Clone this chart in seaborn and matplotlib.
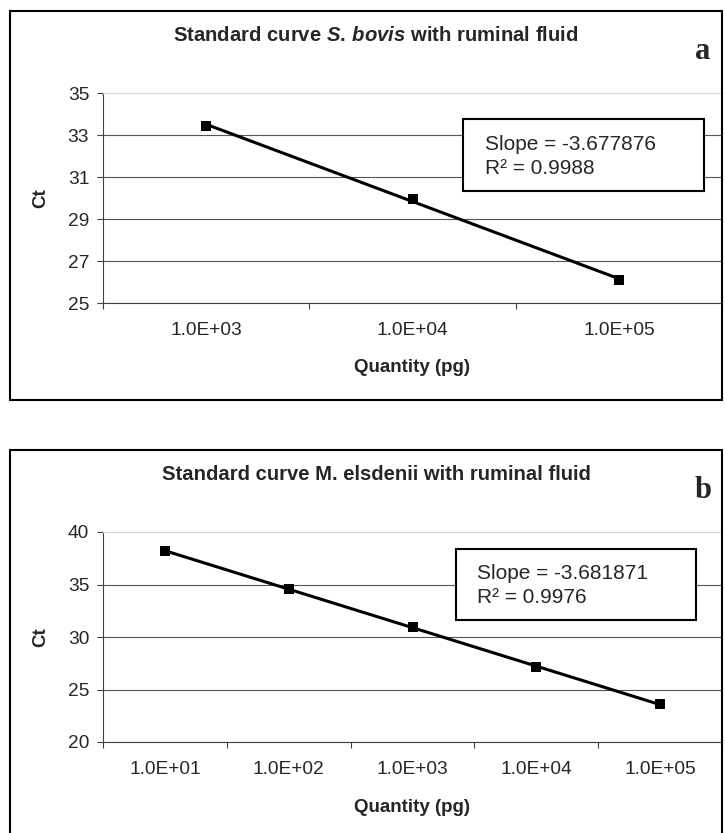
import matplotlib
matplotlib.use("Agg")
import matplotlib.pyplot as plt
from matplotlib.patches import Rectangle
import numpy as np
import pandas as pd
import seaborn as sns

# panel a: S. bovis standard curve
bovis_labels = ["1.0E+03", "1.0E+04", "1.0E+05"]
bovis_ct = [33.45, 29.95, 26.1]
bovis_yticks = [25, 27, 29, 31, 33, 35]
bovis_title = "Standard curve $\\mathit{S.}\\,\\mathit{bovis}$ with ruminal fluid"
bovis_stats = ["Slope = -3.677876", "R\u00b2 = 0.9988"]

# panel b: M. elsdenii standard curve
elsd_labels = ["1.0E+01", "1.0E+02", "1.0E+03", "1.0E+04", "1.0E+05"]
elsd_ct = [38.2, 34.55, 31.0, 27.1, 23.6]
elsd_yticks = [20, 25, 30, 35, 40]
elsd_title = "Standard curve M. elsdenii with ruminal fluid"
elsd_stats = ["Slope = -3.681871", "R\u00b2 = 0.9976"]

sns.set_theme(style="white")
plt.rcParams["font.family"] = ["Liberation Sans", "DejaVu Sans"]
plt.rcParams["mathtext.fontset"] = "custom"
plt.rcParams["mathtext.it"] = "Liberation Sans:italic:bold"
plt.rcParams["mathtext.rm"] = "Liberation Sans:bold"

W, H = 725, 833
fig = plt.figure(figsize=(W / 100, H / 100), dpi=100)
fig.patch.set_facecolor("white")


def fx(px):
    return px / W


def fy(py):
    return 1 - py / H


def draw_panel(top, labels, ct, yticks, title, letter, stats, box, text_x, text_y):
    # chart area frame
    fig.patches.append(Rectangle((fx(10), fy(top + 389)), fx(712), 389 / H,
                                 transform=fig.transFigure, fill=False,
                                 ec="black", lw=1.5))
    fig.text(fx(376), fy(top + 30), title, ha="center", va="baseline",
             fontsize=14.6, fontweight="bold")
    fig.text(fx(703), fy(top + 48), letter, ha="center", va="baseline",
             fontsize=22, fontweight="bold", family="Liberation Serif")

    ax = fig.add_axes([fx(103), fy(top + 292), fx(619), 210 / H])
    n = len(ct)
    df = pd.DataFrame({"idx": np.arange(n), "ct": ct})
    sns.regplot(data=df, x="idx", y="ct", ax=ax, ci=None, color="black",
                marker="s", truncate=True,
                scatter_kws={"s": 48, "linewidths": 0, "alpha": 1, "zorder": 4},
                line_kws={"lw": 2.2, "zorder": 3})

    ax.set_xlim(-0.5, n - 0.5)
    ax.set_ylim(yticks[0], yticks[-1])
    ax.set_yticks(yticks)
    ax.set_xticks(np.arange(n + 1) - 0.5, [""] * (n + 1))
    ax.set_xticks(np.arange(n), labels, minor=True)
    ax.tick_params(axis="x", which="major", direction="out", length=4.5,
                   width=0.8, color="#404040", bottom=True)
    ax.tick_params(axis="x", which="minor", length=0, pad=14, labelsize=13.8)
    ax.tick_params(axis="y", direction="out", length=4, width=0.8,
                   color="#404040", left=True, pad=6, labelsize=13.8)
    ax.set_xlabel("")
    ax.set_ylabel("")

    ax.yaxis.grid(True, color="#555555", lw=0.8)
    ax.set_axisbelow(True)
    ax.get_ygridlines()[-1].set_visible(False)
    for side in ["left", "bottom"]:
        ax.spines[side].set_color("#404040")
        ax.spines[side].set_linewidth(0.8)
    ax.spines["right"].set_visible(False)
    ax.spines["top"].set_color("#d8d8d8")
    ax.spines["top"].set_linewidth(0.8)

    ax.text(0.5, -65 / 210, "Quantity (pg)", transform=ax.transAxes,
            ha="center", va="center", fontsize=13.5, fontweight="bold")
    ax.text(-62 / 619, 0.5, "Ct", transform=ax.transAxes, rotation=90,
            ha="center", va="center", fontsize=13.5, fontweight="bold")

    ax.add_patch(Rectangle((box[0], box[1]), box[2], box[3],
                           transform=ax.transAxes, fc="white", ec="black",
                           lw=1.5, zorder=5, clip_on=False))
    for line, yy in zip(stats, text_y):
        ax.text(text_x, yy, line, transform=ax.transAxes, ha="left",
                va="baseline", fontsize=15, zorder=6)
    return ax


draw_panel(11, bovis_labels, bovis_ct, bovis_yticks, bovis_title, "a",
           bovis_stats, (0.582, 0.533, 0.389, 0.343), 0.617, (0.729, 0.614))
draw_panel(450, elsd_labels, elsd_ct, elsd_yticks, elsd_title, "b",
           elsd_stats, (0.570, 0.581, 0.388, 0.338), 0.604, (0.776, 0.662))

fig.savefig("out.png", dpi=100)
